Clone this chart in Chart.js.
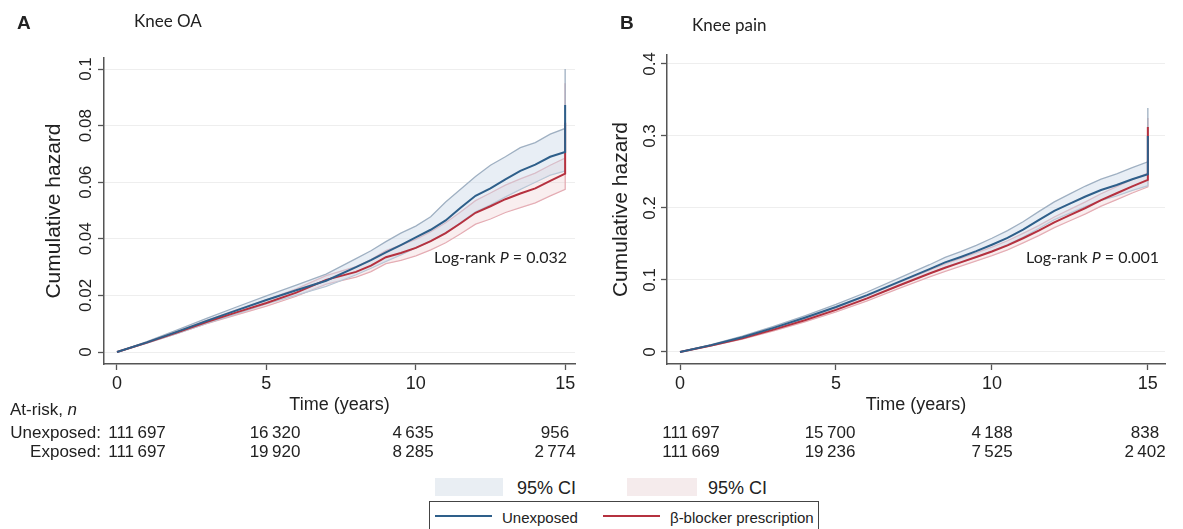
<!DOCTYPE html>
<html>
<head>
<meta charset="utf-8">
<script src="https://cdn.jsdelivr.net/npm/chart.js@4.4.0/dist/chart.umd.min.js"></script>
<style>
  body { margin: 0; background: #fff; }
  #wrap { position: relative; width: 1183px; height: 529px; overflow: hidden;
          font-family: "Liberation Sans", Arial, sans-serif; color: #222; }
  canvas { position: absolute; top: 0; }
  .t { position: absolute; white-space: nowrap; line-height: 1; }
  .l { transform: translateY(-50%); }
  .c { transform: translate(-50%, -50%); }
  .r { transform: translate(-100%, -50%); }
  .cal { font-family: Lato, "Open Sans", sans-serif; }
  .sw { position: absolute; }
</style>
</head>
<body>
<div id="wrap">
  <canvas id="chart_oa" width="600" height="420" style="left:0"></canvas>
  <canvas id="chart_pain" width="593" height="420" style="left:590px"></canvas>

  <div class="t l" style="left:17px;top:22px;font-weight:bold;font-size:19px">A</div>
  <div class="t l cal" style="left:134px;top:20px;font-size:17px">Knee OA</div>
  <div class="t l" style="left:620px;top:22px;font-weight:bold;font-size:19px">B</div>
  <div class="t l cal" style="left:692px;top:24px;font-size:17px">Knee pain</div>

  <div class="t l cal" style="left:434px;top:257px;font-size:16px">Log-rank <i>P</i> = 0.032</div>
  <div class="t l cal" style="left:1026px;top:257px;font-size:16px">Log-rank <i>P</i> = 0.001</div>

  <div class="t l" style="left:10px;top:409px;font-size:17px">At-risk, <i>n</i></div>
  <div class="t r" style="left:101px;top:432px;font-size:17px">Unexposed:</div>
  <div class="t r" style="left:101px;top:451px;font-size:17px">Exposed:</div>
  <div id="risk"></div>

  <div class="sw" style="left:435px;top:478px;width:68px;height:18px;background:#e9eef3"></div>
  <div class="t l" style="left:517px;top:488px;font-size:18px">95% CI</div>
  <div class="sw" style="left:627px;top:478px;width:70px;height:18px;background:#f5ebec"></div>
  <div class="t l" style="left:708px;top:488px;font-size:18px">95% CI</div>
  <div class="sw" style="left:429px;top:501px;width:388px;height:40px;border:1px solid #444"></div>
  <div class="sw" style="left:435px;top:515px;width:57px;height:2px;background:#2e5f8a"></div>
  <div class="t l" style="left:502px;top:517px;font-size:15px">Unexposed</div>
  <div class="sw" style="left:603px;top:515px;width:57px;height:2px;background:#b5313f"></div>
  <div class="t l" style="left:670px;top:517px;font-size:15px">β-blocker prescription</div>
</div>

<script>
const timeYears = [0, 1, 2, 3, 4, 5, 6, 7, 8, 8.5, 9, 9.5, 10, 10.5, 11, 11.5, 12, 12.5, 13, 13.5, 14, 14.5, 15, 15];
const xTicks = [0, 5, 10, 15];
const oaTicks = [0, 0.02, 0.04, 0.06, 0.08, 0.1];
const painTicks = [0, 0.1, 0.2, 0.3, 0.4];

// Knee OA
const oaUnexp   = [0, 0.0034, 0.0071, 0.0110, 0.0147, 0.0184, 0.0218, 0.0252, 0.0300, 0.0325, 0.0352, 0.0378, 0.0405, 0.0432, 0.0465, 0.0510, 0.0552, 0.0578, 0.0610, 0.0640, 0.0662, 0.0690, 0.0707, 0.0873];
const oaUnexpHi = [0, 0.0037, 0.0077, 0.0119, 0.0159, 0.0198, 0.0236, 0.0275, 0.0330, 0.0358, 0.0390, 0.0420, 0.0445, 0.0478, 0.0530, 0.0575, 0.0620, 0.0660, 0.0690, 0.0722, 0.0740, 0.0770, 0.0790, 0.1000];
const oaUnexpLo = [0, 0.0031, 0.0065, 0.0101, 0.0135, 0.0170, 0.0201, 0.0232, 0.0273, 0.0296, 0.0320, 0.0343, 0.0368, 0.0392, 0.0420, 0.0458, 0.0495, 0.0520, 0.0548, 0.0575, 0.0600, 0.0625, 0.0640, 0.0760];
const oaExp     = [0, 0.0033, 0.0069, 0.0106, 0.0140, 0.0173, 0.0210, 0.0255, 0.0283, 0.0305, 0.0335, 0.0350, 0.0368, 0.0392, 0.0420, 0.0455, 0.0492, 0.0515, 0.0540, 0.0560, 0.0578, 0.0605, 0.0630, 0.0810];
const oaExpHi   = [0, 0.0035, 0.0073, 0.0112, 0.0149, 0.0184, 0.0223, 0.0270, 0.0302, 0.0327, 0.0358, 0.0378, 0.0398, 0.0425, 0.0457, 0.0495, 0.0535, 0.0562, 0.0590, 0.0612, 0.0632, 0.0660, 0.0685, 0.0950];
const oaExpLo   = [0, 0.0031, 0.0065, 0.0100, 0.0131, 0.0162, 0.0197, 0.0240, 0.0265, 0.0284, 0.0312, 0.0324, 0.0340, 0.0361, 0.0386, 0.0418, 0.0452, 0.0470, 0.0493, 0.0510, 0.0527, 0.0552, 0.0575, 0.0690];

// Knee pain
const painUnexp   = [0, 0.0095, 0.0205, 0.0335, 0.0475, 0.0625, 0.0790, 0.0970, 0.1150, 0.1245, 0.1320, 0.1400, 0.1490, 0.1585, 0.1700, 0.1830, 0.1960, 0.2060, 0.2160, 0.2250, 0.2320, 0.2400, 0.2470, 0.3000];
const painUnexpHi = [0, 0.0102, 0.0219, 0.0356, 0.0503, 0.0660, 0.0833, 0.1021, 0.1212, 0.1315, 0.1395, 0.1482, 0.1580, 0.1685, 0.1808, 0.1950, 0.2085, 0.2195, 0.2305, 0.2400, 0.2475, 0.2560, 0.2640, 0.3390];
const painUnexpLo = [0, 0.0088, 0.0191, 0.0314, 0.0447, 0.0590, 0.0748, 0.0919, 0.1090, 0.1178, 0.1248, 0.1322, 0.1402, 0.1490, 0.1595, 0.1715, 0.1838, 0.1930, 0.2022, 0.2105, 0.2168, 0.2245, 0.2310, 0.2650];
const painExp     = [0, 0.0090, 0.0190, 0.0310, 0.0440, 0.0585, 0.0745, 0.0920, 0.1090, 0.1170, 0.1245, 0.1320, 0.1395, 0.1480, 0.1580, 0.1685, 0.1800, 0.1900, 0.2000, 0.2110, 0.2205, 0.2300, 0.2390, 0.3125];
const painExpHi   = [0, 0.0095, 0.0201, 0.0327, 0.0463, 0.0614, 0.0780, 0.0962, 0.1138, 0.1222, 0.1300, 0.1378, 0.1455, 0.1545, 0.1648, 0.1756, 0.1875, 0.1980, 0.2085, 0.2198, 0.2296, 0.2395, 0.2485, 0.3250];
const painExpLo   = [0, 0.0085, 0.0180, 0.0294, 0.0418, 0.0557, 0.0711, 0.0880, 0.1044, 0.1120, 0.1192, 0.1264, 0.1337, 0.1418, 0.1515, 0.1616, 0.1727, 0.1823, 0.1918, 0.2025, 0.2117, 0.2208, 0.2295, 0.2700];

// numbers at risk
const oaRiskUnexp   = ["111 697", "16 320", "4 635", "956"];
const oaRiskExp     = ["111 697", "19 920", "8 285", "2 774"];
const painRiskUnexp = ["111 697", "15 700", "4 188", "838"];
const painRiskExp   = ["111 669", "19 236", "7 525", "2 402"];

const riskColsOA = [137, 275, 413, 555];
const riskColsPain = [691, 830, 992, 1145];

function pts(arr) {
  return timeYears.map(function (t, i) { return { x: t, y: arr[i] }; });
}

function makePanel(id, d) {
  let ctx = document.getElementById(id).getContext('2d');
  let line = function (data, color, width, fill, bg) {
    return { data: pts(data), borderColor: color, borderWidth: width, backgroundColor: bg || 'transparent',
             fill: fill || false, pointRadius: 0, tension: 0 };
  };
  return new Chart(ctx, {
    type: 'line',
    data: {
      datasets: [
        line(d.unexp, '#2e5f8a', 2),
        line(d.exp, '#b5313f', 2),
        line(d.unexpHi, '#9fb0c2', 1.3, '+1', 'rgba(205,218,232,0.45)'),
        line(d.unexpLo, '#b4c3d2', 1.3),
        line(d.expHi, '#e3a7af', 1.3, '+1', 'rgba(238,205,210,0.35)'),
        line(d.expLo, '#e3a7af', 1.3)
      ]
    },
    options: {
      responsive: false,
      animation: false,
      devicePixelRatio: 1,
      layout: { padding: { top: d.top, right: d.right, left: 0, bottom: 0 } },
      plugins: { legend: { display: false }, tooltip: { enabled: false } },
      scales: {
        x: {
          type: 'linear', min: d.xMin, max: d.xMax,
          afterBuildTicks: function (s) { s.ticks = xTicks.map(function (v) { return { value: v }; }); },
          afterFit: function (s) { s.height = 56; },
          grid: { drawOnChartArea: false, drawTicks: true, tickLength: 6, tickColor: '#555', tickWidth: 1.3 },
          border: { color: '#555', width: 1.5 },
          ticks: { color: '#222', padding: 3, maxRotation: 0, font: { family: 'Liberation Sans', size: 18 } },
          title: { display: true, text: 'Time (years)', color: '#222', padding: { top: 0, bottom: 4 },
                   font: { family: 'Liberation Sans', size: 18 } }
        },
        y: {
          type: 'linear', min: d.yMin, max: d.yMax,
          afterBuildTicks: function (s) { s.ticks = d.yTicks.map(function (v) { return { value: v }; }); },
          afterFit: function (s) { s.width = d.yWidth; },
          grid: { color: '#eeeeee', lineWidth: 1, drawTicks: true, tickLength: 6, tickColor: '#555', tickWidth: 1.3 },
          border: { color: '#555', width: 1.5 },
          ticks: {
            color: '#222', minRotation: 90, maxRotation: 90, crossAlign: 'center', padding: d.tickPad,
            font: { family: 'Liberation Sans', size: 17 },
            callback: function (v) { return String(+v.toFixed(2)); }
          },
          title: { display: true, text: 'Cumulative hazard', color: '#222', padding: { top: d.titlePad, bottom: 0 },
                   font: { family: 'Liberation Sans', size: 21 } }
        }
      }
    }
  });
}

makePanel('chart_oa', {
  unexp: oaUnexp, unexpHi: oaUnexpHi, unexpLo: oaUnexpLo,
  exp: oaExp, expHi: oaExpHi, expLo: oaExpLo,
  xMin: -0.435, xMax: 15.33, yMin: -0.00424, yMax: 0.1039, yTicks: oaTicks,
  top: 58, right: 25, yWidth: 104, tickPad: -5, titlePad: 42
});

makePanel('chart_pain', {
  unexp: painUnexp, unexpHi: painUnexpHi, unexpLo: painUnexpLo,
  exp: painExp, expHi: painExpHi, expLo: painExpLo,
  xMin: -0.417, xMax: 15.55, yMin: -0.0167, yMax: 0.4125, yTicks: painTicks,
  top: 55, right: 18, yWidth: 77, tickPad: -1, titlePad: 19
});

// at-risk table
let risk = document.getElementById('risk');
function addRow(values, cols, y) {
  values.forEach(function (v, i) {
    let el = document.createElement('div');
    el.className = 't c';
    el.style.left = cols[i] + 'px';
    el.style.top = y + 'px';
    el.style.fontSize = '17px';
    el.textContent = v.replace(' ', '\u2009');
    risk.appendChild(el);
  });
}
addRow(oaRiskUnexp, riskColsOA, 432);
addRow(oaRiskExp, riskColsOA, 451);
addRow(painRiskUnexp, riskColsPain, 432);
addRow(painRiskExp, riskColsPain, 451);
</script>
</body>
</html>
